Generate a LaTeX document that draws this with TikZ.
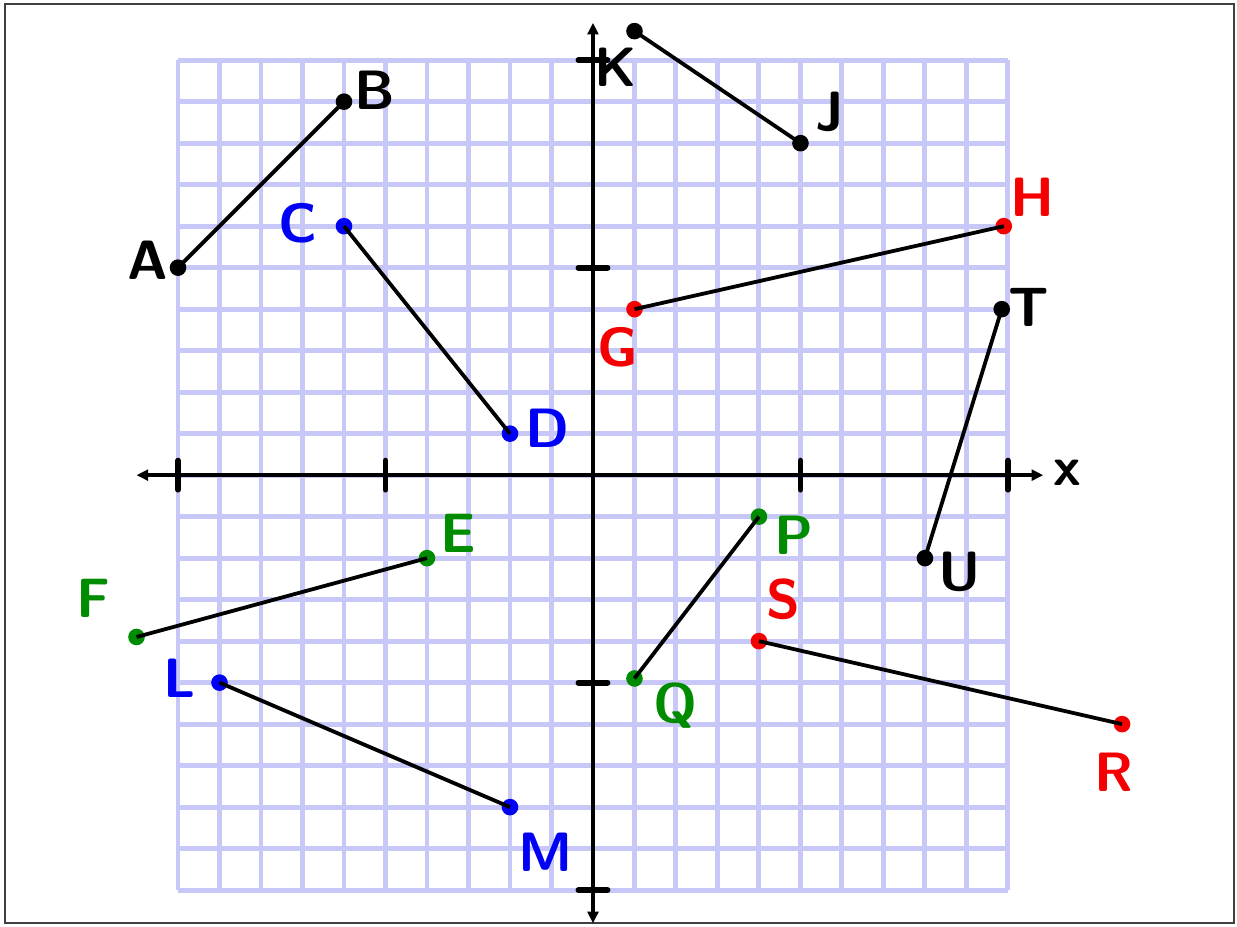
\documentclass[tikz,border=0pt]{standalone}
\usepackage{fontspec}
\usepackage{tikz}
\usetikzlibrary{arrows.meta}
\definecolor{penblue}{HTML}{0000F5}
\definecolor{penred}{HTML}{F50000}
\definecolor{pengreen}{HTML}{008C00}
\definecolor{gridlav}{HTML}{C8C8F8}
\tikzset{dot/.style={circle,fill=#1,inner sep=0pt,minimum size=2mm},
  seg/.style={line width=1.3pt,black},
  lab/.style={font=\sffamily\bfseries\fontsize{19}{22}\selectfont,inner sep=0pt},
  axisline/.style={line width=1.2pt,{Triangle[length=1.4mm,width=1.3mm]}-{Triangle[length=1.4mm,width=1.3mm]}},
  tickmark/.style={line width=2pt,line cap=round}}

\begin{document}
\begin{tikzpicture}[x=0.5cm,y=0.5cm]
\useasboundingbox (-14.29,-10.87) rectangle (15.52,11.45);
\draw[black!75,line width=0.8pt] (-14.17,-10.80) rectangle (15.45,11.35);
\draw[gridlav,line width=1.7pt,step=0.5cm] (-10,-10) grid (10,10);
% axes
\coordinate (xl) at (-11,0); \coordinate (xr) at (10.85,0);
\coordinate (yb) at (0,-10.8); \coordinate (yt) at (0,10.9);
\draw[axisline] (xl)--(xr);
\draw[axisline] (yb)--(yt);
\foreach \t in {-10,-5,5,10} {\draw[tickmark] (\t,-0.35)--(\t,0.35); \draw[tickmark] (-0.35,\t)--(0.35,\t);}
\node[lab] (xlab) at (11.42,0.05) {x};
% end points
\node[dot=black] (A) at (-10,5) {}; \node[dot=black] (B) at (-6,9) {};
\node[dot=penblue] (C) at (-6,6) {}; \node[dot=penblue] (D) at (-2,1) {};
\node[dot=black] (K) at (1,10.7) {}; \node[dot=black] (J) at (5,8) {};
\node[dot=penred] (G) at (1,4) {}; \node[dot=penred] (H) at (9.9,6) {};
\node[dot=black] (T) at (9.85,4) {}; \node[dot=black] (U) at (8,-2) {};
\node[dot=pengreen] (E) at (-4,-2) {}; \node[dot=pengreen] (F) at (-11,-3.9) {};
\node[dot=pengreen] (P) at (4,-1) {}; \node[dot=pengreen] (Q) at (1,-4.9) {};
\node[dot=penred] (S) at (4,-4) {}; \node[dot=penred] (R) at (12.75,-6) {};
\node[dot=penblue] (L) at (-9,-5) {}; \node[dot=penblue] (M) at (-2,-8) {};
% segments
\draw[seg] (A.center)--(B.center); \draw[seg] (C.center)--(D.center);
\draw[seg] (K.center)--(J.center); \draw[seg] (G.center)--(H.center);
\draw[seg] (T.center)--(U.center); \draw[seg] (E.center)--(F.center);
\draw[seg] (P.center)--(Q.center); \draw[seg] (S.center)--(R.center);
\draw[seg] (L.center)--(M.center);
% letters
\node[lab] (lA) at (-10.72,5.18) {A}; \node[lab] (lB) at (-5.25,9.28) {B};
\node[lab,penblue] (lC) at (-7.1,6.07) {C}; \node[lab,penblue] (lD) at (-1.1,1.13) {D};
\node[lab] (lK) at (0.55,9.83) {K}; \node[lab] (lJ) at (5.7,8.75) {J};
\node[lab,penred] (lG) at (0.6,3.08) {G}; \node[lab,penred] (lH) at (10.58,6.7) {H};
\node[lab] (lT) at (10.5,4.05) {T}; \node[lab] (lU) at (8.84,-2.34) {U};
\node[lab,pengreen] (lE) at (-3.25,-1.4) {E}; \node[lab,pengreen] (lF) at (-12.05,-2.96) {F};
\node[lab,pengreen] (lP) at (4.84,-1.45) {P}; \node[lab,pengreen] (lQ) at (1.98,-5.55) {Q};
\node[lab,penred] (lS) at (4.58,-3.0) {S}; \node[lab,penred] (lR) at (12.55,-7.15) {R};
\node[lab,penblue] (lL) at (-9.95,-4.9) {L}; \node[lab,penblue] (lM) at (-1.15,-9.1) {M};
\end{tikzpicture}
\end{document}
